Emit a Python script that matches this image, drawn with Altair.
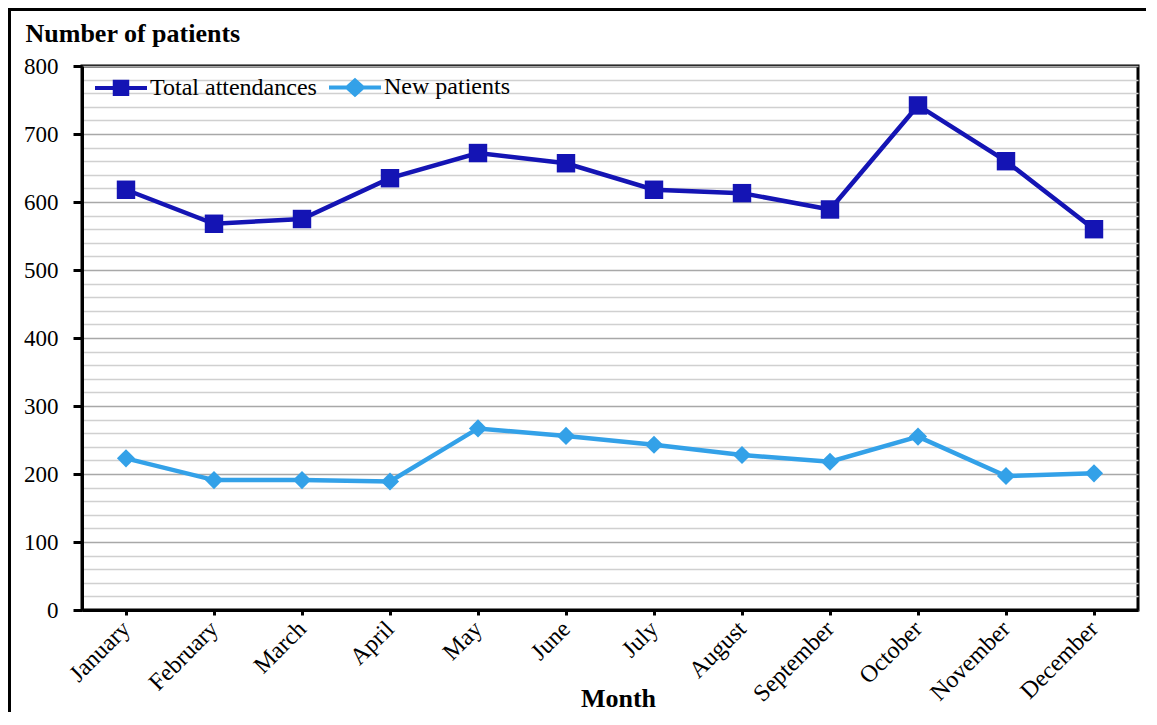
import altair as alt
import pandas as pd

months = ["January", "February", "March", "April", "May", "June", "July",
          "August", "September", "October", "November", "December"]
total_attendances = [618, 568, 575, 635, 672, 657, 618, 613, 589, 742, 660, 560]
new_patients = [223, 191, 191, 189, 267, 256, 243, 228, 218, 255, 197, 201]
series_names = ["Total attendances", "New patients"]
series_colors = ["#1414B4", "#33A1E8"]
y_ticks = list(range(0, 801, 20))

rows = []
for m, t, n in zip(months, total_attendances, new_patients):
    rows.append({"Month": m, "Series": series_names[0], "Value": t})
    rows.append({"Month": m, "Series": series_names[1], "Value": n})
df = pd.DataFrame(rows)

FONT = "Liberation Serif"
W, H = 1056, 544

x_enc = alt.X(
    "Month:N", sort=months,
    scale=alt.Scale(type="point", padding=0.5, domain=months),
    axis=alt.Axis(
        title="Month", titleFont=FONT, titleFontSize=26, titleFontWeight="bold",
        titleColor="black", titleX=536, titleY=96, titleAlign="center",
        titleBaseline="alphabetic",
        labelAngle=-45, labelAlign="right", labelBaseline="middle",
        labelFont=FONT, labelFontSize=24, labelColor="black", labelPadding=10,
        labelOverlap=False, labelLimit=300,
        tickSize=5, tickWidth=3, tickColor="black",
        domainColor="black", domainWidth=3, grid=False,
    ),
)
y_enc = alt.Y(
    "Value:Q",
    scale=alt.Scale(domain=[0, 800], nice=False, zero=True),
    axis=alt.Axis(
        title="Number of patients", titleAngle=0, titleX=-57, titleY=-25,
        titleAlign="left", titleBaseline="alphabetic", titleFont=FONT,
        titleFontSize=26, titleFontWeight="bold", titleColor="black",
        values=y_ticks,
        labelExpr="datum.value % 100 === 0 ? datum.label : ''",
        labelFont=FONT, labelFontSize=23, labelColor="black", labelPadding=15,
        tickSize=9, tickWidth=3, tickColor="black",
        tickOpacity={"condition": {"test": "datum.value % 100 === 0", "value": 1}, "value": 0},
        gridColor={"condition": {"test": "datum.value % 100 === 0", "value": "#a8a8a8"}, "value": "#d0d0d0"},
        gridWidth=1.5,
        domainColor="black", domainWidth=3,
    ),
)

sq_path = "M-1,0H1M-0.24,-0.24H0.24V0.24H-0.24Z"
dm_path = "M-1,0H1M0,-0.27L0.3,0L0,0.27L-0.3,0Z"

leg = alt.Legend(
    title=None, orient="none", legendX=11, legendY=-7, direction="horizontal",
    columns=2, labelFont=FONT, labelFontSize=24, labelColor="black",
    labelOffset=1, columnPadding=4, symbolSize=2704, symbolStrokeWidth=4,
    padding=0, symbolOpacity=1, labelLimit=400,
)

color_scale = alt.Scale(domain=series_names, range=series_colors)


def series_layers(idx, shape, size):
    base = alt.Chart(df).transform_filter(alt.datum.Series == series_names[idx])
    line = base.mark_line(strokeWidth=4.5, color=series_colors[idx]).encode(x=x_enc, y=y_enc)
    pts = base.mark_point(shape=shape, filled=True, size=size, color=series_colors[idx],
                          opacity=1).encode(x=x_enc, y=y_enc)
    return [line, pts]


total_layers = series_layers(0, "square", 340)
new_layers = series_layers(1, "diamond", 330)

legend_layer = alt.Chart(df).mark_point(filled=True, opacity=0).encode(
    x=x_enc, y=y_enc,
    fill=alt.Fill("Series:N", scale=color_scale, legend=leg),
    stroke=alt.Stroke("Series:N", scale=color_scale, legend=leg),
    shape=alt.Shape("Series:N", scale=alt.Scale(domain=series_names, range=[sq_path, dm_path]), legend=leg),
)

one = alt.Data(values=[{"k": 1}])
frame_top = alt.Chart(one).mark_rule(color="black", strokeWidth=3).encode(
    x=alt.value(-74), x2=alt.value(W + 10), y=alt.value(-56.5))
frame_left = alt.Chart(one).mark_rule(color="black", strokeWidth=3).encode(
    x=alt.value(-72.5), y=alt.value(-58), y2=alt.value(H + 102))

chart = alt.layer(*total_layers, *new_layers, legend_layer, frame_top, frame_left).properties(
    width=W, height=H,
    autosize=alt.AutoSizeParams(type="none"),
    padding={"left": 74, "top": 58, "right": 8, "bottom": 102},
    background="white",
).configure_view(stroke="black", strokeWidth=3)

chart.save("out.html", embed_options={"renderer": "svg", "actions": False})
